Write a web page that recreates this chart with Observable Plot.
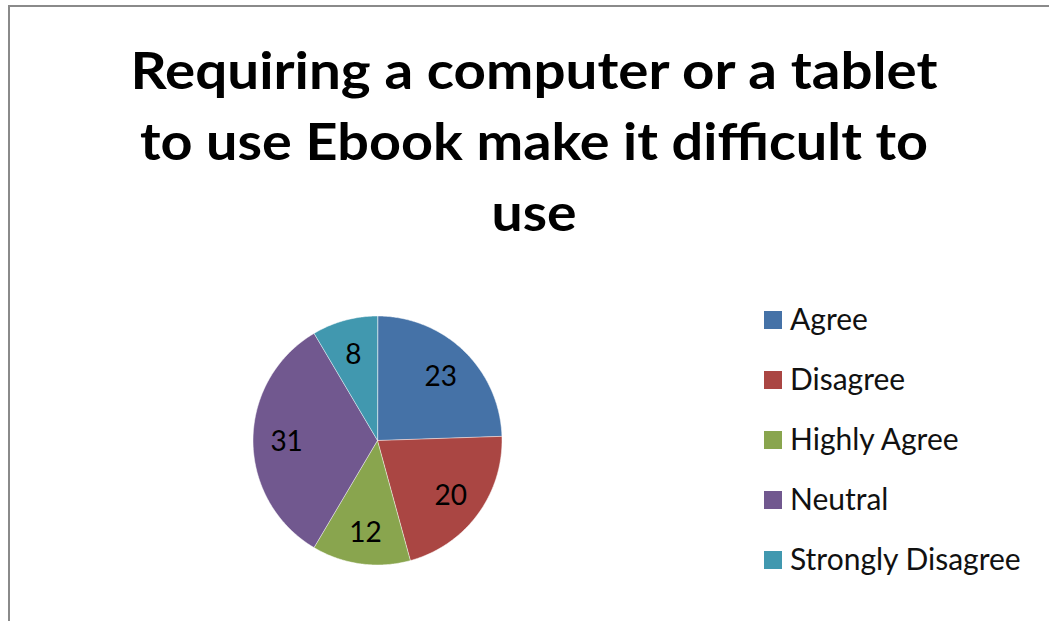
<!DOCTYPE html>
<html>
<head>
<meta charset="utf-8">
<script src="https://cdn.jsdelivr.net/npm/d3@7"></script>
<script src="https://cdn.jsdelivr.net/npm/@observablehq/plot@0.6"></script>
<style>
  html, body { margin: 0; padding: 0; background: #fff; overflow: hidden; width: 1049px; height: 621px; }
  #frame { position: absolute; left: 8px; top: 5px; width: 1100px; height: 700px;
           border-top: 2px solid #8a8a8a; border-left: 2px solid #8a8a8a; box-sizing: border-box; }
  #plot { position: absolute; left: 0; top: 0; }
  #overlay { position: absolute; left: 0; top: 0; }
</style>
</head>
<body>
<div id="frame"></div>
<div id="plot"></div>
<svg id="overlay" width="1049" height="621"></svg>
<script>
// ---- data ----
const titleLines = ["Requiring a computer or a tablet", "to use Ebook make it difficult to", "use"];
const categories = ["Agree", "Disagree", "Highly Agree", "Neutral", "Strongly Disagree"];
const values = [23, 20, 12, 31, 8];
const colors = ["#4572A7", "#AA4643", "#89A54E", "#71588F", "#4198AF"];

// ---- geometry from data (d3.pie angles, clockwise from top) ----
const arcs = d3.pie().sort(null).startAngle(0).endAngle(2 * Math.PI)(values);
const polys = [];
arcs.forEach((a, i) => {
  polys.push({cat: categories[i], x: 0, y: 0});
  const n = Math.max(2, Math.ceil((a.endAngle - a.startAngle) / 0.01));
  for (let k = 0; k <= n; k++) {
    const t = a.startAngle + (a.endAngle - a.startAngle) * k / n;
    polys.push({cat: categories[i], x: Math.sin(t), y: Math.cos(t)});
  }
});
const labelR = 0.73;
const labels = arcs.map((a, i) => {
  const m = (a.startAngle + a.endAngle) / 2;
  return {cat: categories[i], value: values[i], x: labelR * Math.sin(m), y: labelR * Math.cos(m)};
});

const cx = 377, cy = 440, R = 124.5;
const chart = Plot.plot({
  width: 1049,
  height: 621,
  margin: 0,
  x: {domain: [-1, 1], range: [cx - R, cx + R], axis: null},
  y: {domain: [-1, 1], range: [cy + R, cy - R], axis: null},
  color: {domain: categories, range: colors},
  style: {background: "transparent", overflow: "visible"},
  marks: [
    Plot.line(polys, {x: "x", y: "y", z: "cat", fill: "cat", stroke: "#ffffff", strokeWidth: 1, strokeOpacity: 0.5, curve: "linear-closed"}),
    Plot.text(labels, {x: "x", y: "y", dy: 2, text: d => String(d.value), fill: "#000", fontSize: 28, fontFamily: "Lato"})
  ]
});
document.getElementById("plot").appendChild(chart);

// ---- title & legend ----
const titleWidths = [807, 788, 85];
const svg = d3.select("#overlay");
svg.selectAll("text.title").data(titleLines).join("text")
  .attr("class", "title")
  .attr("x", 534)
  .attr("y", (d, i) => 89 + i * 71)
  .attr("text-anchor", "middle")
  .attr("textLength", (d, i) => titleWidths[i])
  .attr("lengthAdjust", "spacingAndGlyphs")
  .style("font-family", "Lato")
  .style("font-weight", "bold")
  .style("font-size", "52px")
  .style("fill", "#000")
  .text(d => d);

const lg = svg.selectAll("g.lg").data(categories).join("g")
  .attr("class", "lg")
  .attr("transform", (d, i) => `translate(764, ${320 + i * 60})`);
lg.append("rect").attr("x", 0).attr("y", -9).attr("width", 18).attr("height", 18)
  .attr("fill", (d, i) => colors[i]);
lg.append("text").attr("x", 26).attr("y", 10)
  .style("font-family", "Lato").style("font-size", "30px").style("fill", "#111")
  .text(d => d);
</script>
</body>
</html>
